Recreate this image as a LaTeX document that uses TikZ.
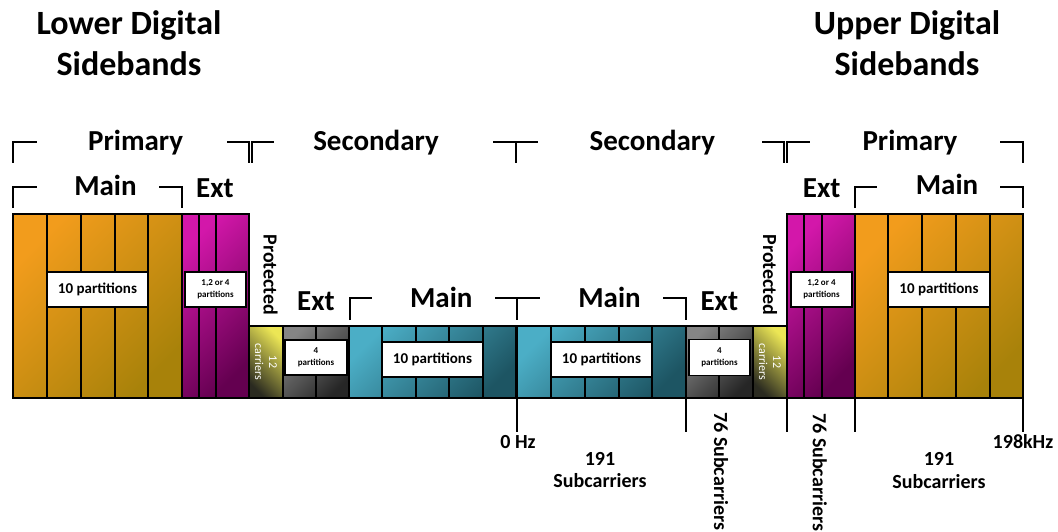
\documentclass[tikz,border=0pt]{standalone}
\usepackage{fontspec}
\setmainfont{Carlito}
\definecolor{orL}{HTML}{F29C1C}
\definecolor{orD}{HTML}{A8820A}
\definecolor{mgL}{HTML}{D317AA}
\definecolor{mgD}{HTML}{640050}
\definecolor{tlL}{HTML}{4BAEC6}
\definecolor{tlD}{HTML}{1D5563}
\definecolor{gyL}{HTML}{858585}
\definecolor{gyD}{HTML}{262626}
\definecolor{ylL}{HTML}{ECE655}
\definecolor{ylD}{HTML}{2A2A20}
\newcommand\blockshade[7]{\shade[top color=#5,bottom color=#6,shading angle=#7] (#1,#2) rectangle (#3,#4);}
\begin{document}
\begin{tikzpicture}[x=1pt,y=-1pt,
  col/.style={draw=black,line width=1.6pt},
  brk/.style={draw=black,line width=1.4pt},
  title/.style={font=\bfseries\fontsize{34}{41}\selectfont,align=center,inner sep=0pt},
  big/.style={font=\bfseries\fontsize{29}{33}\selectfont,inner sep=0pt,anchor=base},
  side/.style={font=\bfseries\fontsize{20}{24}\selectfont,inner sep=0pt,rotate=-90},
  bot/.style={font=\bfseries\fontsize{20}{24}\selectfont,inner sep=0pt,align=center},
  pbox/.style={draw=black,fill=white,line width=1.6pt,inner sep=0pt,align=center},
  ptext/.style={font=\bfseries\fontsize{15}{17}\selectfont},
  stext/.style={font=\bfseries\fontsize{9}{12}\selectfont},
  ctext/.style={font=\fontsize{12}{14}\selectfont,text=white,align=center,inner sep=0pt,rotate=-90}]
\useasboundingbox (0,0) rectangle (1058,532);
% ---------- shaded blocks ----------
\blockshade{13}{214}{182}{398}{orL}{orD}{45}
\blockshade{182}{214}{249}{398}{mgL}{mgD}{45}
\blockshade{249}{326}{283}{398}{ylL}{ylD}{-45}
\blockshade{283}{326}{349}{398}{gyL}{gyD}{45}
\blockshade{349}{326}{516}{398}{tlL}{tlD}{45}
\blockshade{517}{326}{686}{398}{tlL}{tlD}{45}
\blockshade{686}{326}{753}{398}{gyL}{gyD}{45}
\blockshade{753}{326}{787}{398}{ylL}{ylD}{-45}
\blockshade{787}{214}{855}{398}{mgL}{mgD}{45}
\blockshade{855}{214}{1023}{398}{orL}{orD}{45}
% ---------- column outlines ----------
\foreach \a/\b in {13/47,47/81,81/115,115/148,148/182,182/199,199/216,216/249,
                   787/804,804/822,822/855,855/888,888/922,922/956,956/990,990/1023}
  {\draw[col] (\a,214) rectangle (\b,398);}
\foreach \a/\b in {249/283,283/316,316/349,349/382,382/416,416/449,449/483,483/516,
                   517/551,551/585,585/619,619/652,652/686,686/719,719/753,753/787}
  {\draw[col] (\a,326) rectangle (\b,398);}
% ---------- partition boxes ----------
\node[pbox,minimum width=101,minimum height=35,ptext] (boxLM) at (97.5,289.5) {10 partitions};
\node[pbox,minimum width=61,minimum height=35,stext] (boxLE) at (215.5,289.5) {1,2 or 4\\partitions};
\node[pbox,minimum width=62,minimum height=35,stext] (boxLS) at (316,357.5) {4\\partitions};
\node[pbox,minimum width=101,minimum height=35,ptext] (boxLT) at (432.5,359.5) {10 partitions};
\node[pbox,minimum width=101,minimum height=35,ptext] (boxUT) at (601.5,359.5) {10 partitions};
\node[pbox,minimum width=61,minimum height=36,stext] (boxUS) at (719.5,357.5) {4\\partitions};
\node[pbox,minimum width=61,minimum height=35,stext] (boxUE) at (821.5,289.5) {1,2 or 4\\partitions};
\node[pbox,minimum width=102,minimum height=35,ptext] (boxUM) at (939,289.5) {10 partitions};
% ---------- 12 carriers ----------
\node[ctext] (carL) at (266,362) {12\\carriers};
\node[ctext] (carU) at (770,362) {12\\carriers};
% ---------- brackets ----------
\draw[brk] (13,163)--(13,142)--(37,142);
\draw[brk] (227,142)--(249,142)--(249,163);
\draw[brk] (252,163)--(252,142)--(274,142);
\draw[brk] (493,142)--(538,142) (516,142)--(516,163);
\draw[brk] (762,142)--(784,142)--(784,163);
\draw[brk] (787,163)--(787,142)--(810,142);
\draw[brk] (1000,142)--(1023,142)--(1023,163);
\draw[brk] (13,208)--(13,187)--(37,187);
\draw[brk] (159,187)--(182,187)--(182,208);
\draw[brk] (855,208)--(855,187)--(877,187);
\draw[brk] (1000,187)--(1023,187)--(1023,208);
\draw[brk] (350,320)--(350,298)--(372,298);
\draw[brk] (495,298)--(540,298) (517,298)--(517,320);
\draw[brk] (663,298)--(686,298)--(686,320);
% ---------- bottom ticks ----------
\foreach \x in {517,686,787,855,1023} {\draw[brk] (\x,398)--(\x,432);}
% ---------- titles ----------
\node[title] (tL) at (129,43) {Lower Digital\\Sidebands};
\node[title] (tU) at (907,43) {Upper Digital\\Sidebands};
% ---------- labels ----------
\node[big] (priL) at (135.7,150) {Primary};
\node[big] (secL) at (376,150) {Secondary};
\node[big] (secU) at (652.3,150) {Secondary};
\node[big] (priU) at (910,150) {Primary};
\node[big] (mainL) at (105.5,195) {Main};
\node[big] (extL) at (215,197) {Ext};
\node[big] (extU) at (821.7,197) {Ext};
\node[big] (mainU) at (947,194) {Main};
\node[big] (extLS) at (316,310) {Ext};
\node[big] (mainLS) at (441.3,307) {Main};
\node[big] (mainUS) at (609.5,307) {Main};
\node[big] (extUS) at (719.3,310) {Ext};
\node[side] (protL) at (270.5,275) {Protected};
\node[side] (protU) at (770,275) {Protected};
% ---------- bottom labels ----------
\node[bot,anchor=base] (zero) at (518,448) {0 Hz};
\node[bot,anchor=base] (top198) at (1023,448) {198kHz};
\node[bot,anchor=base] (n191L) at (600,465) {191};
\node[bot,anchor=base] (subL) at (600,487.5) {Subcarriers};
\node[bot,anchor=base] (n191U) at (939,465) {191};
\node[bot,anchor=base] (subU) at (939,488) {Subcarriers};
\node[side,anchor=west] (s76L) at (721,412) {76 Subcarriers};
\node[side,anchor=west] (s76U) at (819.7,413) {76 Subcarriers};
\end{tikzpicture}
\end{document}
